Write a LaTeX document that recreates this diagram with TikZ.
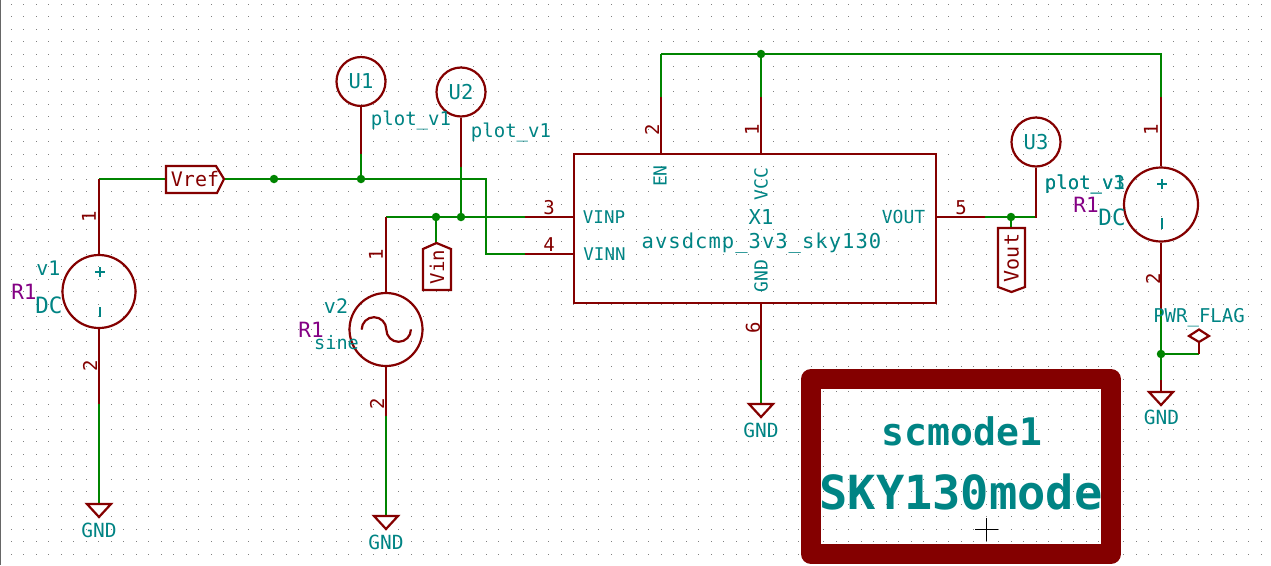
\documentclass[tikz,border=0pt]{standalone}
\usepackage{fontspec}
\newfontfamily\kf{DejaVu Sans Mono}
\newfontfamily\kfw[LetterSpace=5]{DejaVu Sans Mono}
\newfontfamily\kfb[BoldFont={DejaVu Sans Mono Bold}]{DejaVu Sans Mono}
\definecolor{kred}{HTML}{840000}
\definecolor{kgreen}{HTML}{008400}
\definecolor{kteal}{HTML}{008484}
\definecolor{kpurple}{HTML}{840084}
\tikzset{
  x=1pt,y=-1pt,
  wire/.style={kgreen,line width=2.6pt},
  pinline/.style={kred,line width=2.6pt},
  outline/.style={kred,line width=2.2pt},
  junct/.style={circle,fill=kgreen,inner sep=0pt,minimum size=8.5pt},
  txt/.style={inner sep=0pt,text=kteal,font=\kf\fontsize{#1}{#1}\selectfont},
  txt/.default=20,
  num/.style={inner sep=0pt,text=kred,font=\kf\fontsize{19}{19}\selectfont},
  lab/.style={inner sep=0pt,text=kred,font=\kf\fontsize{#1}{#1}\selectfont},
  refd/.style={inner sep=0pt,text=kpurple,font=\kf\fontsize{21}{21}\selectfont},
  src/.style={circle,draw=kred,line width=2.2pt,minimum size=73pt,inner sep=0pt},
  probe/.style={circle,draw=kred,line width=2.2pt,minimum size=49pt,inner sep=0pt,text=kteal,font=\kf\fontsize{20.5}{20.5}\selectfont},
}
\begin{document}
\begin{tikzpicture}
\useasboundingbox (0,0) rectangle (1271,565);
\fill[white] (0,0) rectangle (1271,565);
\foreach \i in {0,...,100}{\foreach \j in {0,...,44}{
  \fill[black!50] ({11+12.5*\i-.5},{4+12.5*\j-.5}) rectangle ++(1,1);}}
\fill[black!60] (0,0) rectangle (1.2,565);

% sources and probes
\node[src] (v1) at (99,291.5) {};
\node[src] (v2) at (386,329.5) {};
\node[src,minimum size=74pt] (v3) at (1161,204.5) {};
\node[probe] (u1) at (361,81.5) {U1};
\node[probe] (u2) at (461,92) {U2};
\node[probe] (u3) at (1036,142) {U3};
\node[draw=kred,line width=2.2pt,minimum width=362pt,minimum height=149pt,inner sep=0pt] (x1) at (755,228.5) {};

% positions
\coordinate (top1) at (661,54);
\coordinate (top3) at (1161,54);
\coordinate (cv1) at (99,179);
\coordinate (cr1) at (486,179);
\coordinate (cr2) at (486,254);
\coordinate (cv2) at (386,217);

% wires
\draw[wire,line join=miter] (cv1) -- (cr1) -- (cr2) -- (525,254);
\draw[wire] (cv2) -- (525,217);
\draw[wire] (top1) -- (top3) -- (1161,97);
\draw[wire] (top1) -- (661,97);
\draw[wire] (761,54) -- (761,97);
\draw[wire] (361,154) -- (361,179);
\draw[wire] (461,167) -- (461,217);
\draw[wire] (436,217) -- (436,243);
\draw[wire] (99,404) -- (99,504);
\draw[wire] (386,416) -- (386,516);
\draw[wire] (761,360) -- (761,404);
\draw[wire] (1161,310) -- (1161,380);
\draw[wire] (1161,354) -- (1199,354);
\draw[wire] (985,217) -- (1036,217);
\draw[wire] (1011,217) -- (1011,228);

% red pin lines
\draw[pinline] (cv1) -- (v1.north);
\draw[pinline] (v1.south) -- (99,404);
\draw[pinline] (cv2) -- (v2.north);
\draw[pinline] (v2.south) -- (386,416);
\draw[pinline] (525,217) -- (574,217);
\draw[pinline] (525,254) -- (574,254);
\draw[pinline] (661,97) -- (661,154);
\draw[pinline] (761,97) -- (761,154);
\draw[pinline] (761,303) -- (761,360);
\draw[pinline] (936,217) -- (985,217);
\draw[pinline] (1161,97) -- (v3.north);
\draw[pinline] (v3.south) -- (1161,310);
\draw[pinline] (1161,380) -- (1161,392);
\draw[pinline] (1199,354) -- (1199,342);
\draw[pinline] (u1.south) -- (361,154);
\draw[pinline] (u2.south) -- (461,167);
\draw[pinline] (u3.south) -- (1036,218);

% junction dots
\foreach \p in {(274,179),(361,179),(436,217),(461,217),(761,54),(1011,217),(1161,354)}
  \node[junct] at \p {};

% GND symbols
\foreach \x/\y in {99/504,386/516,761/404,1161/392}
  \draw[outline,fill=white,line join=miter] (\x-12,\y) -- (\x+12,\y) -- (\x,\y+13) -- cycle;
\node[txt=19.5] (g1) at (99,530) {GND};
\node[txt=19.5] (g2) at (386,542) {GND};
\node[txt=19.5] (g3) at (761,430) {GND};
\node[txt=19.5] (g4) at (1161.5,417) {GND};

% PWR flag
\draw[outline,fill=white] (1189,336) -- (1199,329.5) -- (1209,336) -- (1199,342) -- cycle;
\node[txt=19] (pf) at (1199,318) {PWR\_FLAG};

% hierarchical labels
\draw[outline,fill=white] (166,166) -- (216,166) -- (224,179) -- (217,193) -- (166,193) -- cycle;
\node[lab=20] (vref) at (195,179.5) {Vref};
\draw[outline,fill=white] (436.5,243) -- (451,249) -- (451,290) -- (423,290) -- (423,249) -- cycle;
\node[lab=19,rotate=90] (vin) at (437,267) {Vin};
\draw[outline,fill=white] (998,228) -- (1025,228) -- (1025,287) -- (1011.5,292) -- (998,287) -- cycle;
\node[lab=20,rotate=90] (vout) at (1011.5,258) {Vout};

% source glyphs
\draw[kteal,line width=1.8pt] (95,272) -- (105,272) (100,267) -- (100,277) (100,307) -- (100,317);
\draw[kteal,line width=1.8pt] (1157,184) -- (1167,184) (1162,179) -- (1162,189) (1162,218) -- (1162,229);
\draw[kred,line width=2.2pt] (361.7,329.5) .. controls (361.7,322.7) and (367.2,317.2) .. (374,317.2) .. controls (380.8,317.2) and (386.3,322.7) .. (386.3,329.5) .. controls (386.3,336.3) and (391.8,341.8) .. (398.6,341.8) .. controls (405.4,341.8) and (410.9,336.3) .. (410.9,329.5);

% pin numbers
\node[num,rotate=90] (n1) at (89,217) {1};
\node[num,rotate=90] (n2) at (90,366) {2};
\node[num,rotate=90] (n3) at (376,255) {1};
\node[num,rotate=90] (n4) at (377,404) {2};
\node[num] (n5) at (549,208) {3};
\node[num] (n6) at (549,245) {4};
\node[num,rotate=90] (n7) at (652,130) {2};
\node[num,rotate=90] (n8) at (752,130) {1};
\node[num,rotate=90] (n9) at (753,328) {6};
\node[num] (n10) at (961,208) {5};
\node[num,rotate=90] (n11) at (1151,130) {1};
\node[num,rotate=90] (n12) at (1153,279) {2};

% text
\node[txt=20] (l1) at (48.5,268) {v1};
\node[refd] (r1) at (24,292) {R1};
\node[txt=22.5] (d1) at (49,305) {DC};
\node[txt=20] (l2) at (336,306) {v2};
\node[refd] (r2) at (311,330) {R1};
\node[txt=18.5] (s2) at (336.5,343) {sine};
\node[refd] (r3) at (1086,205) {R1};
\node[txt=22.5] (d3) at (1112,217) {DC};
\node[txt=19] (p1) at (411,120) {plot\_v1};
\node[txt=19] (p2) at (511,132) {plot\_v1};
\node[txt=19] (p3) at (1085,184) {plot\_v1};
\node[txt=19] (p4) at (1085,184) {plot\_v3};

% component labels
\node[txt=18,rotate=90] (en) at (660,176) {EN};
\node[txt=18,rotate=90] (vcc) at (761,184) {VCC};
\node[txt=18,rotate=90] (gnd) at (761,276) {GND};
\node[txt=20.5] (x) at (761,217) {X1};
\node[inner sep=0pt,text=kteal,font=\kfw\fontsize{20.5}{20.5}\selectfont] (name) at (761.5,243) {avsdcmp\_3v3\_sky130};
\node[txt=17.5] (vinp) at (604,217) {VINP};
\node[txt=17.5] (vinn) at (604.5,254) {VINN};
\node[txt=18] (vo) at (903.5,217) {VOUT};

% frame
\draw[kred,line width=20pt,line join=round] (811,379) rectangle (1111,554);
\node[inner sep=0pt,text=kteal,font=\kfb\bfseries\fontsize{38}{38}\selectfont] (t1) at (962,431) {scmode1};
\node[inner sep=0pt,text=kteal,font=\kfb\bfseries\fontsize{47}{47}\selectfont] (t2) at (961,492) {SKY130mode};
\draw[black,line width=1pt] (975,529.5) -- (998,529.5) (986.7,518) -- (986.7,541);
\end{tikzpicture}
\end{document}
